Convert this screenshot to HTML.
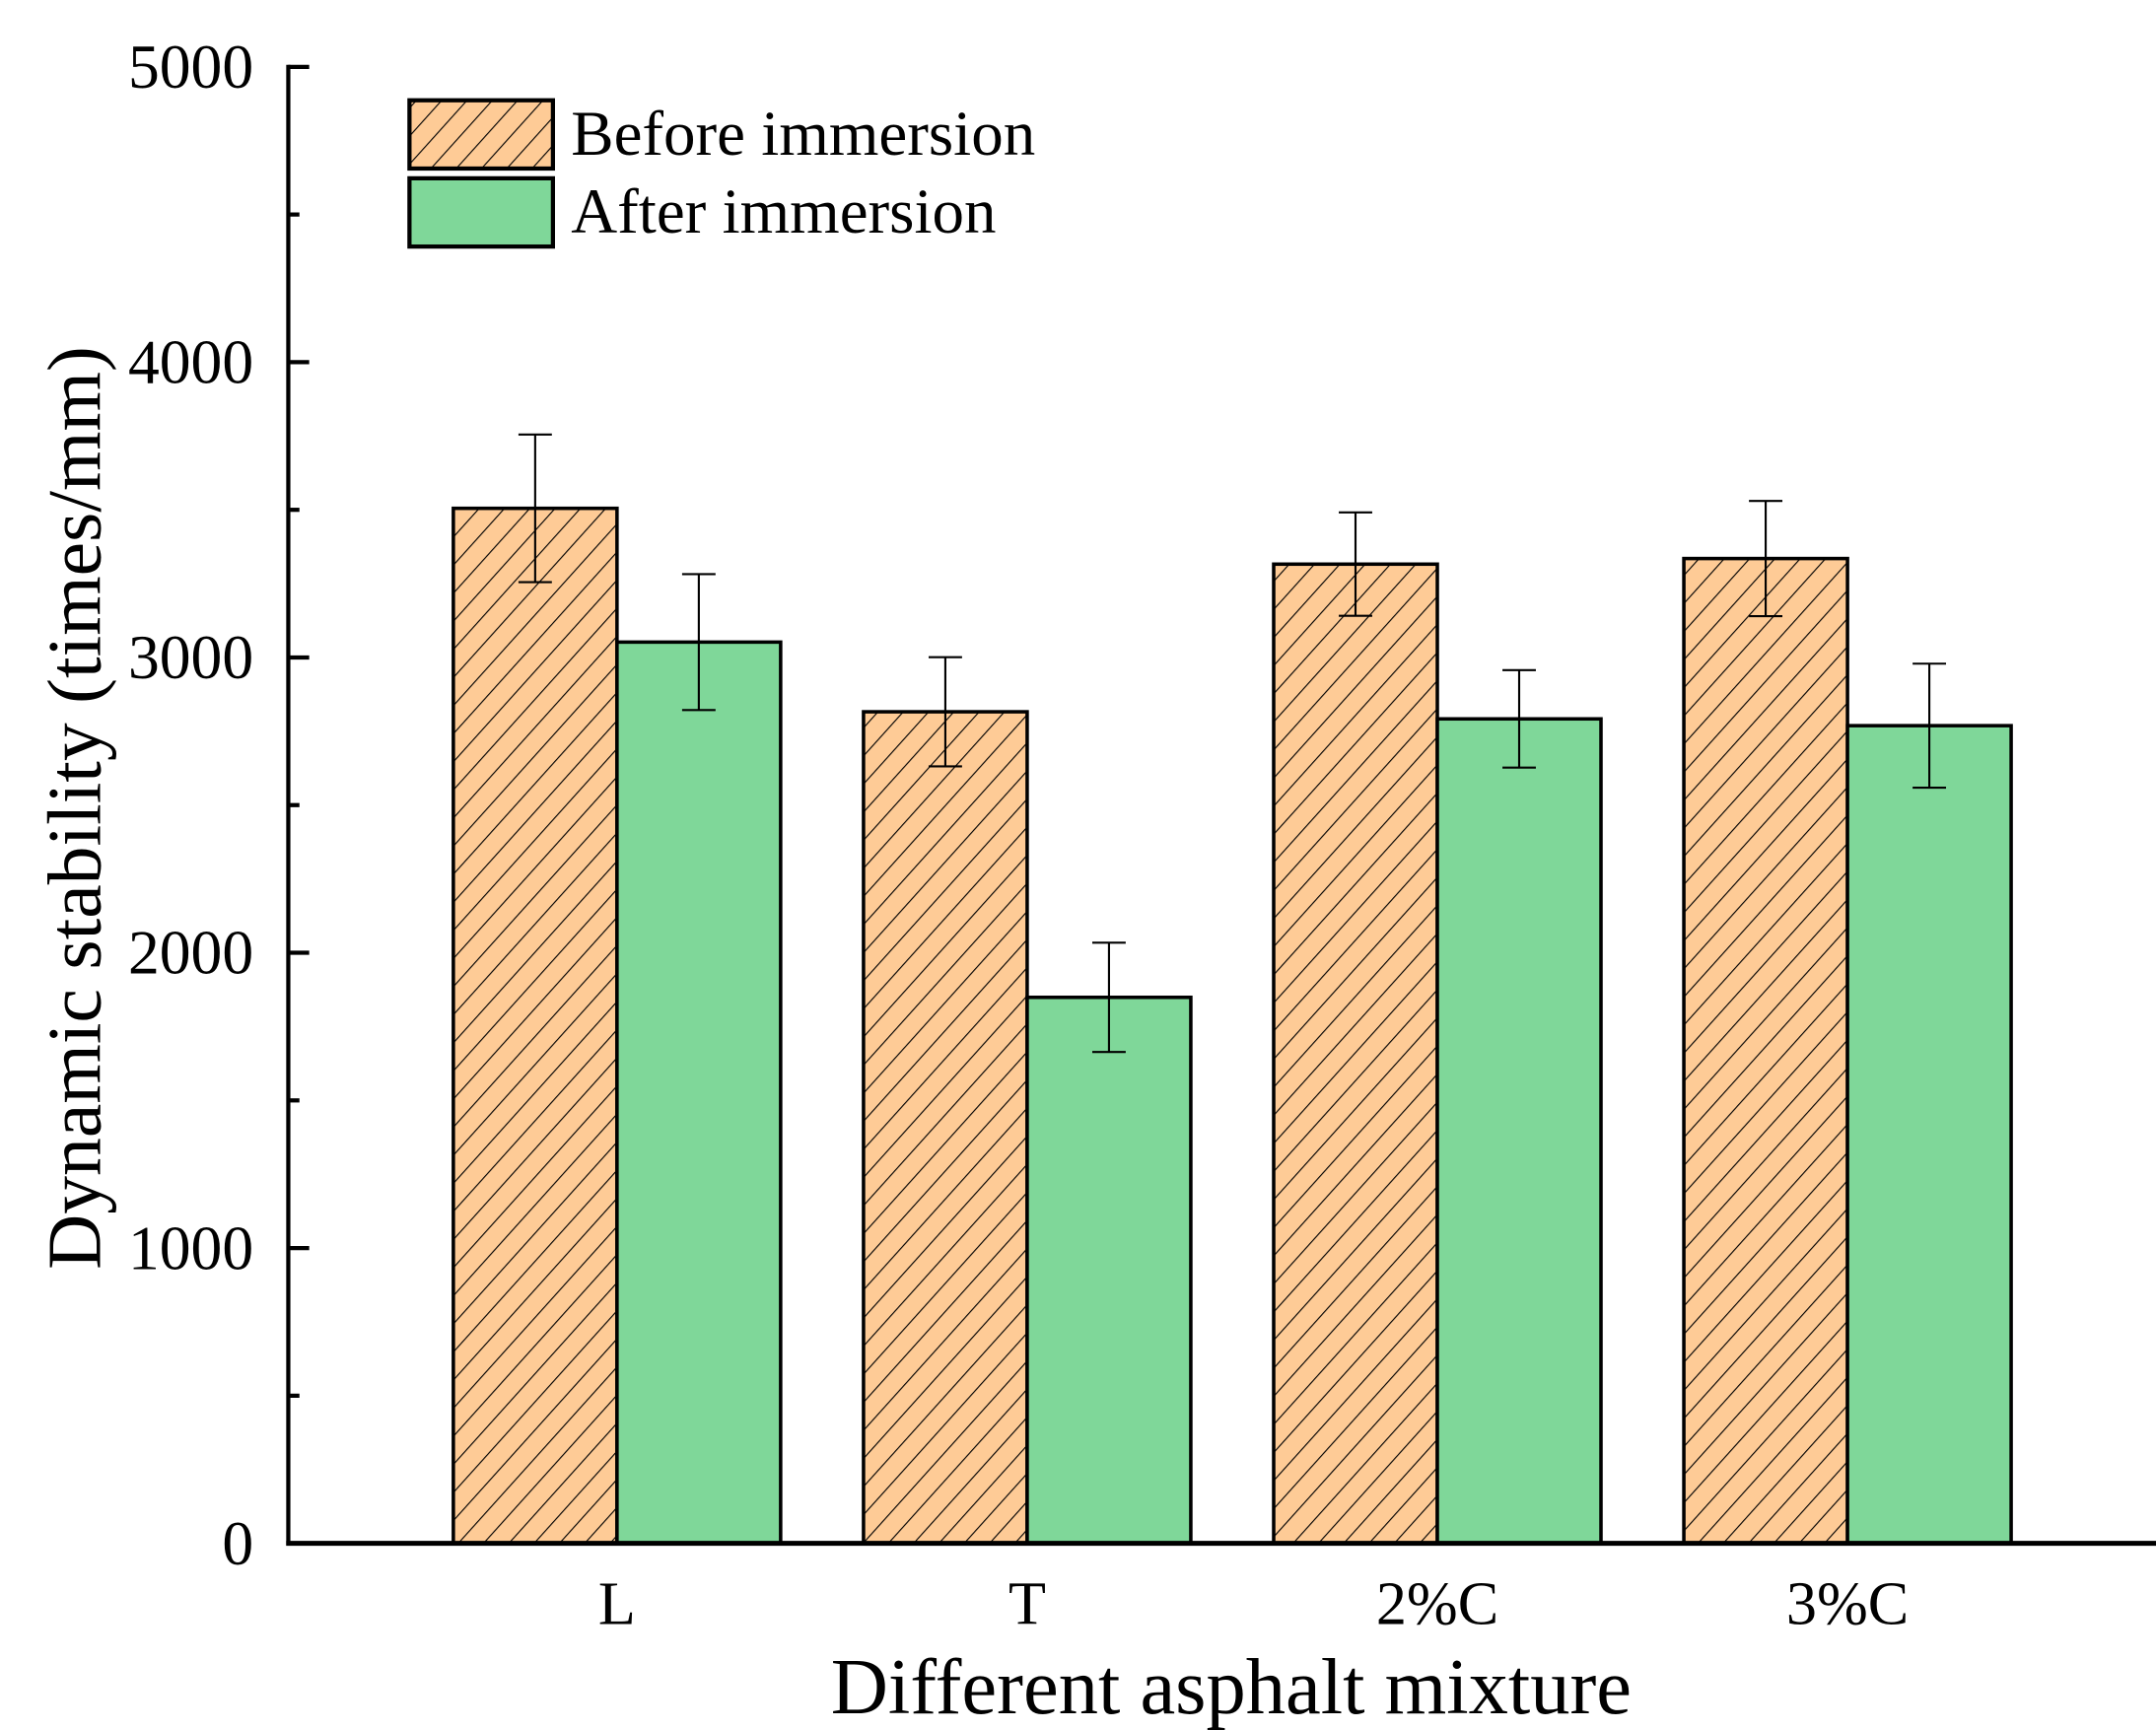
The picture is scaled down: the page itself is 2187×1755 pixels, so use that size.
<!DOCTYPE html>
<html><head><meta charset="utf-8"><style>
html,body{margin:0;padding:0;background:#fff;}
svg{display:block;}
text{font-family:"Liberation Serif",serif;fill:#000;}
</style></head><body>
<svg id="chart" width="2187" height="1755" viewBox="0 0 1548 1242" preserveAspectRatio="none" xmlns="http://www.w3.org/2000/svg">
<defs>
<pattern id="hatch" patternUnits="userSpaceOnUse" width="13.5" height="13.5" patternTransform="rotate(42)">
<rect width="13.5" height="13.5" fill="#fecb96"/>
<line x1="0" y1="0" x2="0" y2="13.5" stroke="#000" stroke-width="1.6"/>
</pattern>
</defs>
<g id="plot"></g>
<g>
<rect x="294" y="72" width="103" height="49" fill="url(#hatch)" stroke="#000" stroke-width="3"/>
<text x="410" y="111" font-size="46">Before immersion</text>
<rect x="294" y="128" width="103" height="49" fill="#7fd799" stroke="#000" stroke-width="3"/>
<text x="410" y="167" font-size="46">After immersion</text>
</g>
<text transform="translate(72,580) rotate(-90)" text-anchor="middle" font-size="55">Dynamic stability (times/mm)</text>
<text x="884" y="1230" text-anchor="middle" font-size="57">Different asphalt mixture</text>
</svg>
<script>
const categories = ["L", "T", "2%C", "3%C"];
const beforeValues = [3505, 2816, 3316, 3335];
const beforeErrors = [250, 185, 175, 195];
const afterValues = [3052, 1849, 2792, 2769];
const afterErrors = [230, 185, 165, 210];
const yTicks = [0, 1000, 2000, 3000, 4000, 5000];
const yMinorTicks = [500, 1500, 2500, 3500, 4500];

const NS = "http://www.w3.org/2000/svg";
const g = document.getElementById("plot");
const X0 = 207, X1 = 1548, Y0 = 1108, YTOP = 48;
const yScale = v => Y0 - (v / 5000) * (Y0 - YTOP);
const xCenter = i => 443 + i * 294.5;
const BW = 117.5;
function mk(tag, attrs) {
  const e = document.createElementNS(NS, tag);
  for (const k in attrs) e.setAttribute(k, attrs[k]);
  g.appendChild(e);
  return e;
}
function errBar(x, v, e) {
  const a = mk("line", {x1: x, x2: x, y1: yScale(v + e), y2: yScale(v - e), stroke: "#000", "stroke-width": 1.5});
  
  
  [v + e, v - e].forEach(w => {
    const c = mk("line", {x1: x - 12, x2: x + 12, y1: yScale(w), y2: yScale(w), stroke: "#000", "stroke-width": 1.5});
    
    
  });
}
categories.forEach((c, i) => {
  const cx = xCenter(i);
  const b = mk("rect", {x: cx - BW, y: yScale(beforeValues[i]), width: BW, height: Y0 - yScale(beforeValues[i]), fill: "url(#hatch)", stroke: "#000", "stroke-width": 2.5});
  
  
  const a = mk("rect", {x: cx, y: yScale(afterValues[i]), width: BW, height: Y0 - yScale(afterValues[i]), fill: "#7fd799", stroke: "#000", "stroke-width": 2.5});
  
  
  errBar(cx - BW / 2, beforeValues[i], beforeErrors[i]);
  errBar(cx + BW / 2, afterValues[i], afterErrors[i]);
  const t = mk("text", {x: cx, y: 1166, "text-anchor": "middle", "font-size": 44});
  t.textContent = c;
  
  
});
const ya = mk("line", {x1: X0, x2: X0, y1: YTOP - 1.5, y2: Y0 + 1.5, stroke: "#000", "stroke-width": 3});


const xa = mk("line", {x1: X0 - 1.5, x2: X1, y1: Y0, y2: Y0, stroke: "#000", "stroke-width": 3.5});


yTicks.forEach(v => {
  const l = mk("line", {x1: X0, x2: X0 + 15, y1: yScale(v), y2: yScale(v), stroke: "#000", "stroke-width": 3});
  
  
  const t = mk("text", {x: 182, y: yScale(v) + 15, "text-anchor": "end", "font-size": 45});
  t.textContent = v;
  
  
});
yMinorTicks.forEach(v => {
  const l = mk("line", {x1: X0, x2: X0 + 8, y1: yScale(v), y2: yScale(v), stroke: "#000", "stroke-width": 3});
  
  
});
</script>
</body></html>
